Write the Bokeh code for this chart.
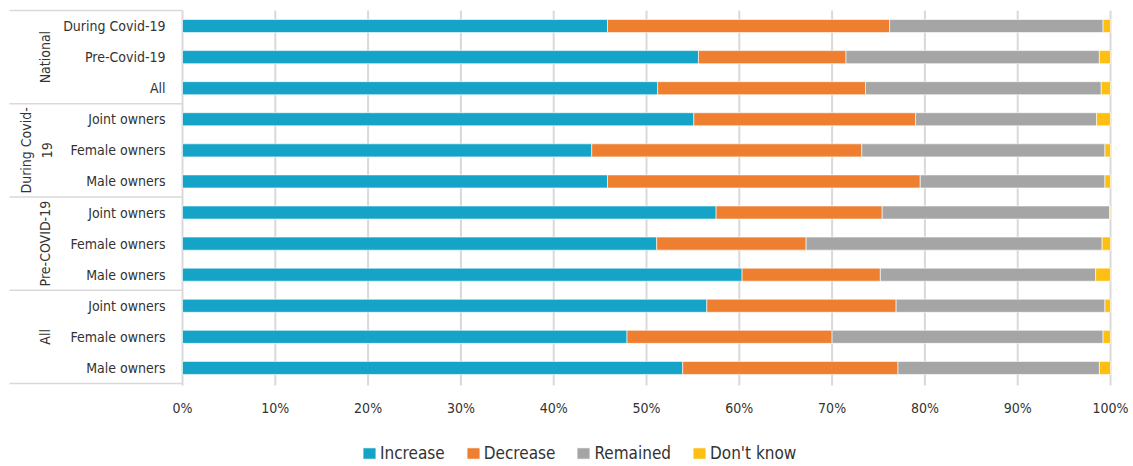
import math

from bokeh.plotting import figure
from bokeh.models import Range1d, Legend, LegendItem, ColumnDataSource
from bokeh.core.properties import value
from bokeh.embed import file_html
from bokeh.resources import INLINE

# ---- data -------------------------------------------------------------
groups = ["National", "During Covid-19", "Pre-COVID-19", "All"]
group_lines = [["National"], ["During Covid-", "19"], ["Pre-COVID-19"], ["All"]]
group_sizes = [3, 3, 3, 3]
row_labels = [
    "During Covid-19", "Pre-Covid-19", "All",
    "Joint owners", "Female owners", "Male owners",
    "Joint owners", "Female owners", "Male owners",
    "Joint owners", "Female owners", "Male owners",
]
increase = [45.8, 55.6, 51.2, 55.1, 44.1, 45.8, 57.5, 51.1, 60.3, 56.5, 47.9, 53.9]
decrease = [30.4, 15.9, 22.4, 23.9, 29.1, 33.7, 17.9, 16.1, 14.9, 20.4, 22.1, 23.2]
remained = [23.0, 27.3, 25.4, 19.5, 26.2, 19.9, 24.5, 31.9, 23.2, 22.5, 29.2, 21.7]
dont_know = [0.8, 1.2, 1.0, 1.5, 0.6, 0.6, 0.1, 0.9, 1.6, 0.6, 0.8, 1.2]
series = ["Increase", "Decrease", "Remained", "Don't know"]
colors = ["#15a3c7", "#ee7f30", "#a5a5a5", "#fdbf12"]
x_ticks = list(range(0, 101, 10))
x_tick_labels = [f"{t}%" for t in x_ticks]

# ---- styling / layout -------------------------------------------------
FONT = "DejaVu Sans Condensed"
TEXT = "#333333"
GRID = "#d9d9d9"
W, H = 1133, 466
ZERO_PX = 182              # pixel column of 0%
PX_PER_PCT = 9.28          # horizontal scale
TOP_PX = 10                # top edge of the first row band
ROW_PX = 31.08             # vertical pitch of one row
n_rows = len(row_labels)


def px_x(px):
    return (px - ZERO_PX) / PX_PER_PCT


def px_y(py):
    return (py - TOP_PX) / ROW_PX


rows = [i + 0.5 for i in range(n_rows)]
source = ColumnDataSource(dict(
    y=rows, Increase=increase, Decrease=decrease,
    Remained=remained, DontKnow=dont_know,
))

p = figure(
    frame_width=W, frame_height=H,
    x_range=Range1d(px_x(0), px_x(W)), y_range=Range1d(px_y(H), px_y(0)),
    output_backend="svg", toolbar_location=None,
    min_border=0, outline_line_color=None, background_fill_color="white",
)
p.axis.visible = False
p.grid.visible = False

# vertical grid lines at each percentage tick, running a little past the last row
grid_bottom = px_y(385)
p.segment(x0=x_ticks, x1=x_ticks, y0=[0] * len(x_ticks), y1=[grid_bottom] * len(x_ticks),
          line_color=GRID, line_width=2)

renderers = p.hbar_stack(
    ["Increase", "Decrease", "Remained", "DontKnow"], y="y", height=0.42,
    color=colors, source=source, line_color="white", line_width=0.6,
)

# row labels right-aligned just left of the 0% line
p.text(x=[px_x(165)] * n_rows, y=rows, text=row_labels,
       text_align="right", text_baseline="middle",
       text_font=value(FONT), text_font_size="14px", text_color=TEXT)

# group separators and rotated group labels
bounds = [0]
for s in group_sizes:
    bounds.append(bounds[-1] + s)
p.segment(x0=[px_x(9)] * len(bounds), x1=[0] * len(bounds), y0=bounds, y1=bounds,
          line_color=GRID, line_width=1.6)

gx, gy, gt = [], [], []
line_gap = 21
for lines, b0, b1 in zip(group_lines, bounds[:-1], bounds[1:]):
    n = len(lines)
    for k, t in enumerate(lines):
        px = 44 + (k - (n - 1) / 2) * line_gap - (8 if n > 1 else 0)
        gx.append(px_x(px))
        gy.append((b0 + b1) / 2)
        gt.append(t)
p.text(x=gx, y=gy, text=gt, angle=math.pi / 2,
       text_align="center", text_baseline="middle",
       text_font=value(FONT), text_font_size="14px", text_color=TEXT)

# percentage tick labels under the grid
p.text(x=x_ticks, y=[px_y(407)] * len(x_ticks), text=x_tick_labels,
       text_align="center", text_baseline="middle",
       text_font=value(FONT), text_font_size="14px", text_color=TEXT)

legend = Legend(
    items=[LegendItem(label=n, renderers=[r]) for n, r in zip(series, renderers)],
    orientation="horizontal", location=(361, 3),
    border_line_color=None, background_fill_alpha=0,
    label_text_font=FONT, label_text_font_size="17px", label_text_color=TEXT,
    glyph_width=16, glyph_height=14, label_standoff=3, spacing=20,
    padding=0, margin=0,
)
p.add_layout(legend)

open("out.html", "w").write(file_html(p, INLINE))
